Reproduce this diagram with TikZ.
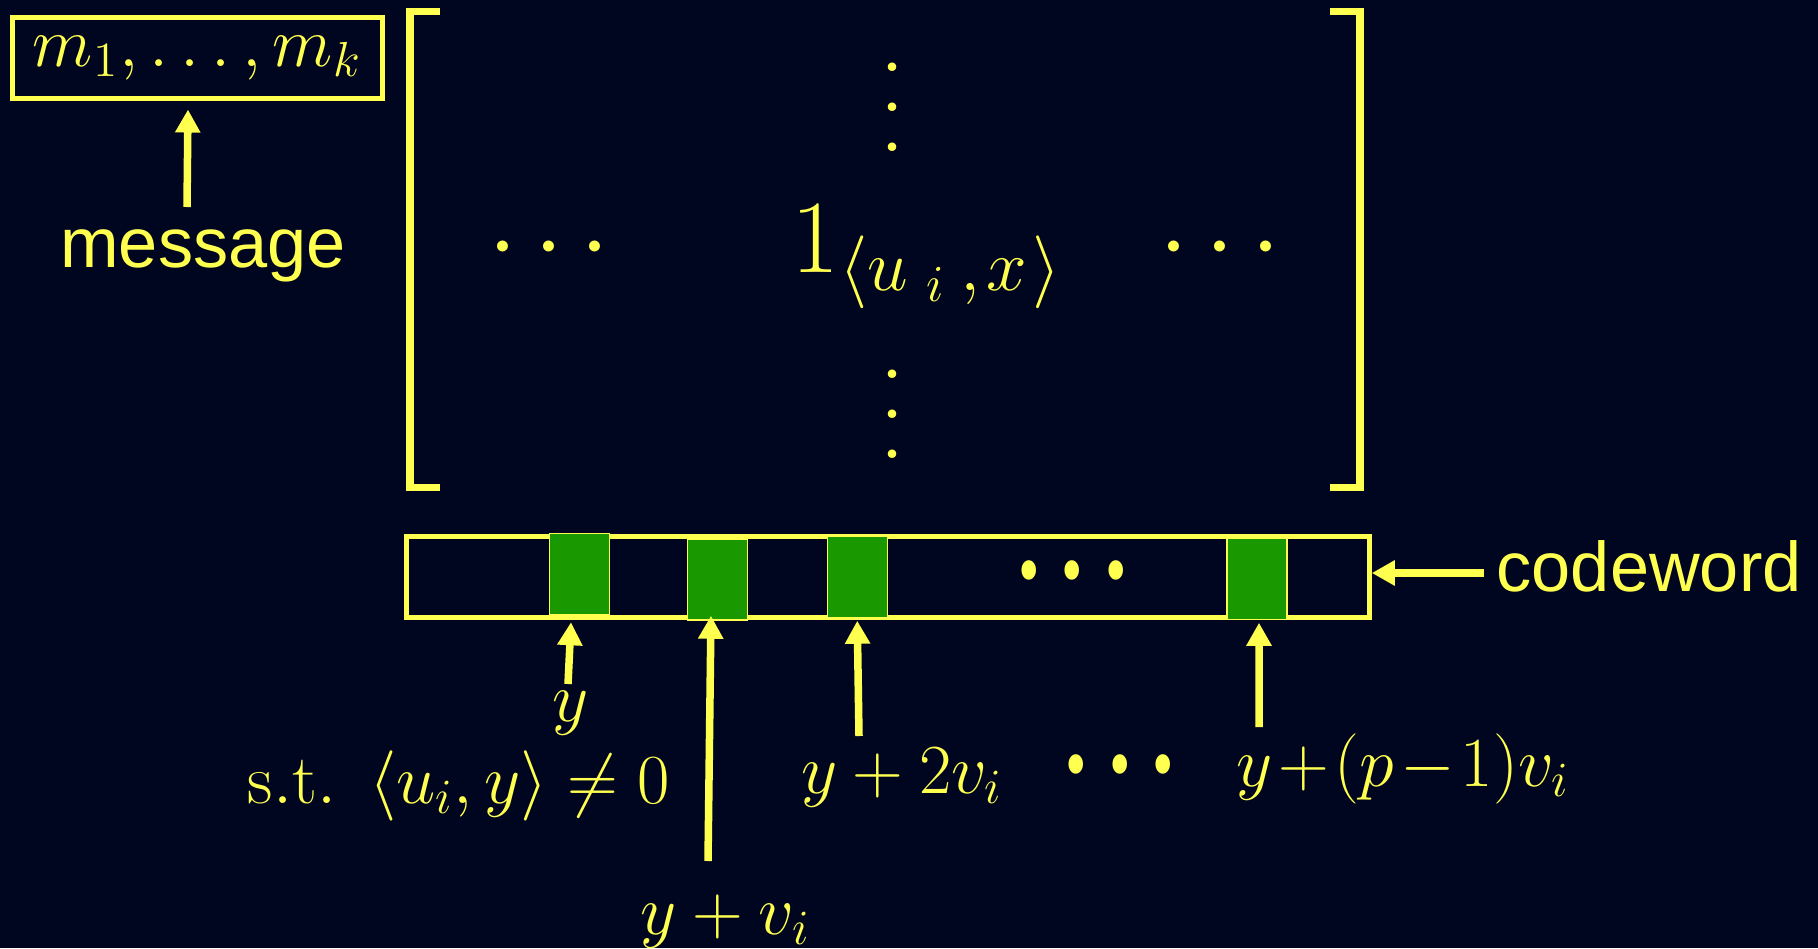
\RequirePackage{fix-cm}
\documentclass[tikz,border=0pt]{standalone}
\usepackage{fontspec}
\usepackage{graphicx}
\usetikzlibrary{arrows.meta}
\newfontfamily\labelfont{Liberation Sans}
\newfontfamily\bulletfont{DejaVu Sans}
\definecolor{bgnavy}{RGB}{0,6,32}
\definecolor{slideyellow}{RGB}{255,255,80}
\definecolor{cellgreen}{RGB}{26,152,0}
\newcommand{\bigvdots}{\vbox{\baselineskip=11.4pt\lineskiplimit=0pt\hbox{.}\hbox{.}\hbox{.}}}
\newcommand{\bulletrow}{\scalebox{1}[1.35]{\fontsize{14.2}{16}\bulletfont •\hspace{.14cm}•\hspace{.14cm}•}}
\begin{document}
\begin{tikzpicture}[x=.01cm,y=-.01cm,
  every node/.style={inner sep=0pt,text=slideyellow},
  lbl/.style={font=\fontsize{20}{24}\selectfont},
  matlbl/.style={font=\fontsize{29.6}{36}\selectfont},
  sanslbl/.style={font=\fontsize{20}{24}\selectfont\labelfont},
  bracket/.style={slideyellow,line width=.075cm},
  arr/.style={slideyellow,line width=.075cm,-{Triangle[length=.23cm,width=.24cm]}},
  cell/.style={draw=slideyellow,fill=cellgreen,minimum width=.6cm,minimum height=.81cm}]
\path[use as bounding box,fill=bgnavy] (0,0) rectangle (1818,948);
% message
\node[lbl,draw=slideyellow,line width=.05cm,minimum width=3.7cm,minimum height=.8cm] (msg) at (197.5,58) {$m_1,\ldots,m_k$};
\node[sanslbl,anchor=base] (msglbl) at (203,267) {message};
\coordinate (msgtail) at (187,207);
\draw[arr] (msgtail) -- ([xshift=-.095cm,yshift=-.09cm]msg.south);
% matrix
\draw[bracket] (440,11.5) -- (410,11.5) -- (410,487.5) -- (440,487.5);
\draw[bracket] (1330,11.5) -- (1360,11.5) -- (1360,487.5) -- (1330,487.5);
\node[matlbl] (vdtop) at (893,107) {\bigvdots};\node[matlbl] (vdbot) at (893,414) {\bigvdots};
\node[matlbl,anchor=base] (hdleft) at (549,272) {$\cdots$};\node[matlbl,anchor=base] (hdright) at (1220,272) {$\cdots$};
\node[matlbl,anchor=base] (entry) at (927,272) {$1_{\langle u_{\hspace{.18cm}i}\hspace{.15cm},\hspace{.06cm}x\hspace{.05cm}\rangle}$};
% codeword
\node[draw=slideyellow,line width=.05cm,minimum width=9.625cm,minimum height=.805cm] (strip) at (887.75,576.75) {};
\node[cell] (c1) at (579.5,574) {};\node[cell] (c2) at (717.5,579.5) {};
\node[cell] (c3) at (857.25,577) {};\node[cell] (c4) at (1257,579) {};
\node (stripdots) at (1072.5,578) {\bulletrow};
\node[sanslbl,anchor=base west] (cwlbl) at (1496,591) {codeword};
\coordinate (cwtail) at (1484,573);
\draw[arr] (cwtail) -- (cwtail -| strip.east);
% positions
\node[lbl,anchor=base] (ylbl) at (571,721) {$y$};
\node[lbl,anchor=base] (stlbl) at (459,803) {$\mathrm{s.t.}\ \,\langle u_i,y\rangle\neq 0$};
\node[lbl,anchor=base] (v1lbl) at (725.5,934) {$y+v_i$};
\node[lbl,anchor=base] (v2lbl) at (902,793) {$y+2v_i$};
\node (gapdots) at (1120,772) {\bulletrow};
\node[lbl,anchor=base] (vplbl) at (1403,786) {$\medmuskip=1.5mu y+(p-1)v_i$};
\coordinate (t1) at (568,684);\coordinate (t2) at (708,861);
\coordinate (t3) at (859,736);\coordinate (t4) at (1259,727);
\draw[arr] (t1) -- ([xshift=-.085cm,yshift=-.07cm]c1.south);
\draw[arr] (t2) -- ([xshift=-.065cm,yshift=.05cm]c2.south);
\draw[arr] (t3) -- ([yshift=-.025cm]c3.south);
\draw[arr] (t4) -- ([xshift=.02cm,yshift=-.025cm]c4.south);
\end{tikzpicture}
\end{document}
